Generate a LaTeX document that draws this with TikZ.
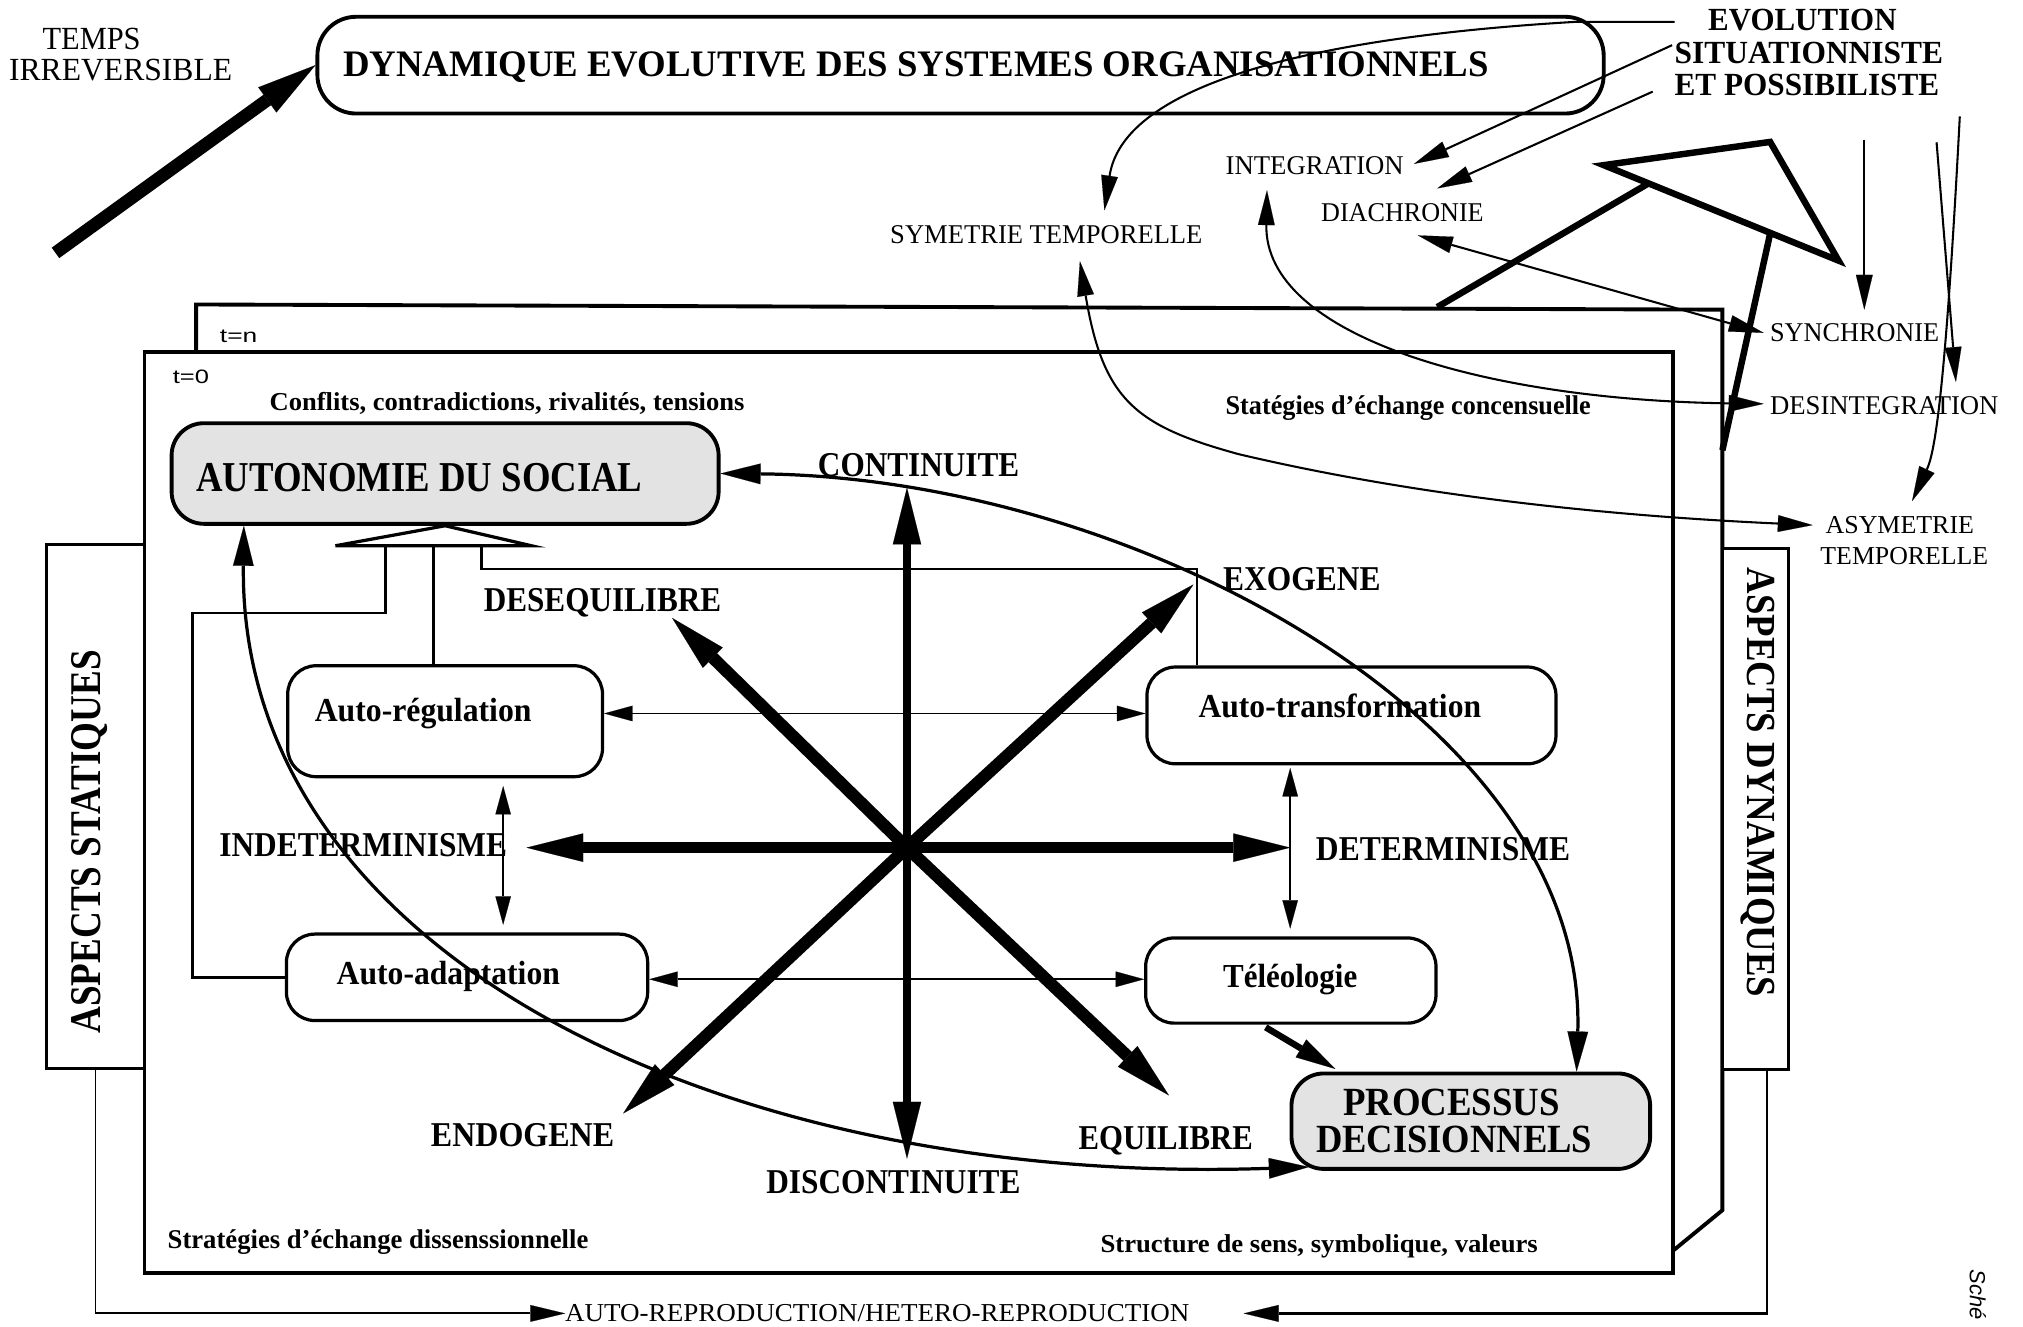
\documentclass[tikz,border=0pt]{standalone}
\usepackage{fontspec}
\setmainfont{Liberation Serif}
\newfontfamily\sansfam{Liberation Sans}
\usetikzlibrary{arrows.meta,calc}
\newcommand\fs[1]{\fontsize{#1}{#1}\selectfont}
\newcommand\fitw[2]{\resizebox{#1pt}{\height}{#2}}
\newcommand\apos{\symbol{39}}
\tikzset{
  tipS/.tip={Triangle[length=22pt,width=12pt,line width=0.1pt]},
  tipU/.tip={Triangle[length=27pt,width=13pt,line width=0.1pt]},
  tipM/.tip={Triangle[length=31pt,width=16pt,line width=0.1pt]},
  tipB/.tip={Triangle[length=44pt,width=22pt,line width=0.1pt]},
  tipT/.tip={Triangle[length=46pt,width=24pt,line width=0.1pt]},
}
\begin{document}
\begin{tikzpicture}[x=1pt,y=-1pt,
  lbl/.style={inner sep=0pt, outer sep=0pt, text depth=0pt},
  rbox/.style={draw, line width=2.5pt, rounded corners=22pt, fill=white, inner sep=0pt},
  gbox/.style={rbox, line width=3pt, rounded corners=25pt, fill=black!11},
  sbox/.style={draw, line width=2.5pt, fill=white, inner sep=0pt},
  link/.style={line width=2pt},
  thin2/.style={line width=1.3pt, tipS-tipS},
  curv/.style={line width=2.5pt, tipM-tipM},
  uarr/.style={line width=1.6pt, -tipU},
  udbl/.style={line width=1.6pt, tipU-tipU},
  bl/.style={lbl, font=\bfseries\fs{27}},
  btx/.style={lbl, font=\bfseries\fs{26}},
  rg/.style={lbl, font=\fs{21}},
]
\useasboundingbox (0,0) rectangle (1568,1028);

% ---- frames t=n and t=0
\draw[line width=3pt] (152,273) -- (152,236) -- (1335,240) -- (1335,938) -- (1296,970);
\draw[line width=3pt, fill=white] (112,273) rectangle (1297,987);
\node[lbl, font=\sansfam\fs{15}] (tn) at (185,261) {\fitw{29}{t=n}};
\node[lbl, font=\sansfam\fs{15}] (t0) at (148,292) {\fitw{28}{t=0}};

% ---- side boxes
\node[sbox, minimum width=76pt, minimum height=406pt] (stat) at (74,625) {};
\node[sbox, minimum width=51pt, minimum height=404pt] (dyn) at (1360.5,627) {};
\node[lbl, font=\bfseries\fs{34}, rotate=90] (statT) at (67,652.5) {\fitw{297}{ASPECTS STATIQUES}};
\node[lbl, font=\bfseries\fs{32}, rotate=-90] (dynT) at (1365,606.5) {\fitw{333}{ASPECTS DYNAMIQUES}};

% ---- title
\node[rbox, line width=3pt, rounded corners=30pt, minimum width=997pt, minimum height=75pt] (title) at (744.5,50.5) {};
\node[lbl, font=\bfseries\fs{29}] (titleT) at (710,50) {\fitw{888}{DYNAMIQUE EVOLUTIVE DES SYSTEMES ORGANISATIONNELS}};
\node[lbl, font=\fs{25}] (temps1) at (71,30) {\fitw{76}{TEMPS}};
\node[lbl, font=\fs{25}] (temps2) at (93.5,54) {\fitw{173}{IRREVERSIBLE}};
\coordinate (tail) at (43,196);
\draw[line width=10pt, -tipT] (tail) -- (title.west);

% ---- upper right labels
\node[lbl, font=\bfseries\fs{25}] (evol1) at (1397,15.5) {\fitw{146}{EVOLUTION}};
\node[lbl, font=\bfseries\fs{25}] (evol2) at (1402,41) {\fitw{208}{SITUATIONNISTE}};
\node[lbl, font=\bfseries\fs{25}] (evol3) at (1400.5,66) {\fitw{205}{ET POSSIBILISTE}};
\node[rg] (integ) at (1019,128) {\fitw{138}{INTEGRATION}};
\node[rg] (diach) at (1087,165) {\fitw{126}{DIACHRONIE}};
\node[rg] (symt) at (811,182) {\fitw{242}{SYMETRIE TEMPORELLE}};
\node[rg] (synch) at (1437.5,258) {\fitw{131}{SYNCHRONIE}};
\node[rg] (desint) at (1460.5,314) {\fitw{177}{DESINTEGRATION}};
\node[lbl, font=\fs{20}] (asym1) at (1472.5,407) {\fitw{115}{ASYMETRIE}};
\node[lbl, font=\fs{20}] (asym2) at (1476,431) {\fitw{130}{TEMPORELLE}};

% ---- pyramid
\draw[line width=5pt, line join=miter] (1243,128) -- (1372,110) -- (1425,202) -- cycle;
\draw[line width=5pt] (1278,142) -- (1114,238);
\draw[line width=5pt] (1372,181) -- (1335,349);

% ---- upper right connectors
\draw[uarr] ($(evol1.west)+(-26,1.5)$) -- (1220,17) .. controls (1000,30) and (870,70) .. ($(symt.north)+(45,-12)$);
\draw[uarr] ($(evol2.west)+(-2,-6)$) -- ($(integ.east)+(8,-1)$);
\draw[uarr] ($(evol3.west)+(-17,5)$) -- ($(diach.north)+(27,-12)$);
\draw[udbl] ($(diach.south)+(12,10.5)$) -- ($(synch.west)+(-5,0)$);
\draw[uarr] ($(evol3.south)+(44.5,34)$) -- ($(synch.north)+(7.5,-11)$);
\draw[uarr] ($(evol3.south)+(100.5,36)$) -- ($(desint.north)+(55.5,-11)$);
\draw[uarr] ($(evol3.south)+(118.5,16)$) .. controls (1508,300) and (1500,350) .. ($(asym1.north)+(9.5,-12)$);
\draw[udbl] ($(integ.south)+(-37,12.5)$) .. controls (980,260) and (1150,310) .. ($(desint.west)+(-5,-1)$);
\draw[udbl] ($(symt.south)+(26,13.5)$) .. controls (855,310) and (880,330) .. (960,352) .. controls (1100,385) and (1250,400) .. ($(asym1.west)+(-10,0)$);

% ---- inner texts of the frame
\node[lbl, font=\bfseries\fs{20}] (confl) at (393,311) {\fitw{368}{Conflits, contradictions, rivalités, tensions}};
\node[lbl, font=\bfseries\fs{21}] (concens) at (1091.5,314) {\fitw{283}{Statégies d\apos échange concensuelle}};
\node[lbl, font=\bfseries\fs{21}] (dissens) at (293,960) {\fitw{326}{Stratégies d\apos échange dissenssionnelle}};
\node[lbl, font=\bfseries\fs{20}] (struct) at (1022.5,964) {\fitw{339}{Structure de sens, symbolique, valeurs}};

% ---- boxes
\node[gbox, minimum width=424pt, minimum height=78pt] (auton) at (345,367) {};
\node[rbox, minimum width=244pt, minimum height=86pt] (reg) at (345,559) {};
\node[rbox, minimum width=280pt, minimum height=67pt] (adapt) at (362,757.5) {};
\node[rbox, minimum width=317pt, minimum height=75pt] (trans) at (1047.5,554.5) {};
\node[rbox, minimum width=225pt, minimum height=66pt] (teleo) at (1000.5,760) {};
\node[gbox, minimum width=278pt, minimum height=74pt] (proc) at (1140,869) {};

\node[lbl, font=\bfseries\fs{33}] (autonT) at (325,370) {\fitw{346}{AUTONOMIE DU SOCIAL}};
\node[btx] (regT) at (328,550) {\fitw{168}{Auto-régulation}};
\node[btx] (adaptT) at (347.5,754) {\fitw{173}{Auto-adaptation}};
\node[btx] (transT) at (1038.5,547) {\fitw{219}{Auto-transformation}};
\node[btx] (teleoT) at (1000,756) {\fitw{104}{Téléologie}};
\node[lbl, font=\bfseries\fs{31}] (procT1) at (1125,854) {\fitw{168}{PROCESSUS}};
\node[lbl, font=\bfseries\fs{31}] (procT2) at (1127,883) {\fitw{214}{DECISIONNELS}};

% ---- open triangle and the three feeds
\draw[line width=2.5pt, fill=white, line join=miter] (260,423) -- (auton.south) -- (412,423) -- cycle;
\draw[link] (299,423) -- (299,475) -- (149,475) |- (adapt.west);
\draw[link] (336,423) -- (336,516);
\draw[link] (373,423) -- (373,441) -| ($(trans.north west)+(40,0)$);

% ---- thin links between the four modes
\draw[thin2] ([yshift=6pt]reg.east) -- ([yshift=1.5pt]trans.west);
\draw[thin2] ([yshift=-1.5pt]adapt.east) -- ([yshift=1pt]teleo.west);
\draw[thin2] ([xshift=45pt,yshift=-6pt]reg.south) -- ([xshift=28pt,yshift=6pt]adapt.north);
\draw[thin2] ([xshift=-47.5pt,yshift=-2pt]trans.south) -- ([xshift=-0.5pt,yshift=6pt]teleo.north);
\draw[line width=5pt, -tipM] ([xshift=-19.5pt,yshift=-2pt]teleo.south) -- ([xshift=-105pt,yshift=2pt]proc.north);

% ---- central star
\coordinate (c) at (703,657);
\coordinate (sN) at (703,378);
\coordinate (sS) at (703,898);
\coordinate (sW) at (408,657);
\coordinate (sE) at (1000,657);
\coordinate (sNW) at (521,479);
\coordinate (sNE) at (925,453);
\coordinate (sSW) at (483,863);
\coordinate (sSE) at (906,849);
\draw[line width=6.5pt, -tipB] (c) -- (sN);
\draw[line width=6.5pt, -tipB] (c) -- (sS);
\draw[line width=8pt, -tipB] (c) -- (sW);
\draw[line width=8pt, -tipB] (c) -- (sE);
\draw[line width=9.5pt, -tipB] (c) -- (sNW);
\draw[line width=9.5pt, -tipB] (c) -- (sNE);
\draw[line width=9.5pt, -tipB] (c) -- (sSW);
\draw[line width=9.5pt, -tipB] (c) -- (sSE);

\node[bl] (cont) at (712,360) {\fitw{156}{CONTINUITE}};
\node[bl] (discont) at (692.5,916) {\fitw{197}{DISCONTINUITE}};
\node[bl] (indet) at (281.5,655) {\fitw{223}{INDETERMINISME}};
\node[bl] (det) at (1118.5,658) {\fitw{197}{DETERMINISME}};
\node[bl] (deseq) at (467,465) {\fitw{184}{DESEQUILIBRE}};
\node[bl] (exo) at (1009,449) {\fitw{122}{EXOGENE}};
\node[bl] (endo) at (405,880) {\fitw{142}{ENDOGENE}};
\node[bl] (equi) at (903.5,882) {\fitw{135}{EQUILIBRE}};

% ---- long curves between the two poles
\draw[curv] (auton.east) .. controls (880,370) and (1230,560) .. ([xshift=82pt]proc.north);
\draw[curv] ([xshift=-156pt]auton.south) .. controls (185,740) and (560,920) .. ([xshift=15pt,yshift=3pt]proc.south west);

% ---- reproduction loop
\node[lbl, font=\fs{20}] (repro) at (680,1018) {\fitw{484}{AUTO-REPRODUCTION/HETERO-REPRODUCTION}};
\draw[line width=1.5pt, -tipU] (stat.south) |- (repro.west);
\draw[line width=2pt, -tipU] ([xshift=9pt]dyn.south) |- ($(repro.east)+(42,0)$);

\node[lbl, font=\sansfam\itshape\fs{17}, rotate=-90, anchor=west] (sche) at (1533,984) {Sché};
\end{tikzpicture}
\end{document}
